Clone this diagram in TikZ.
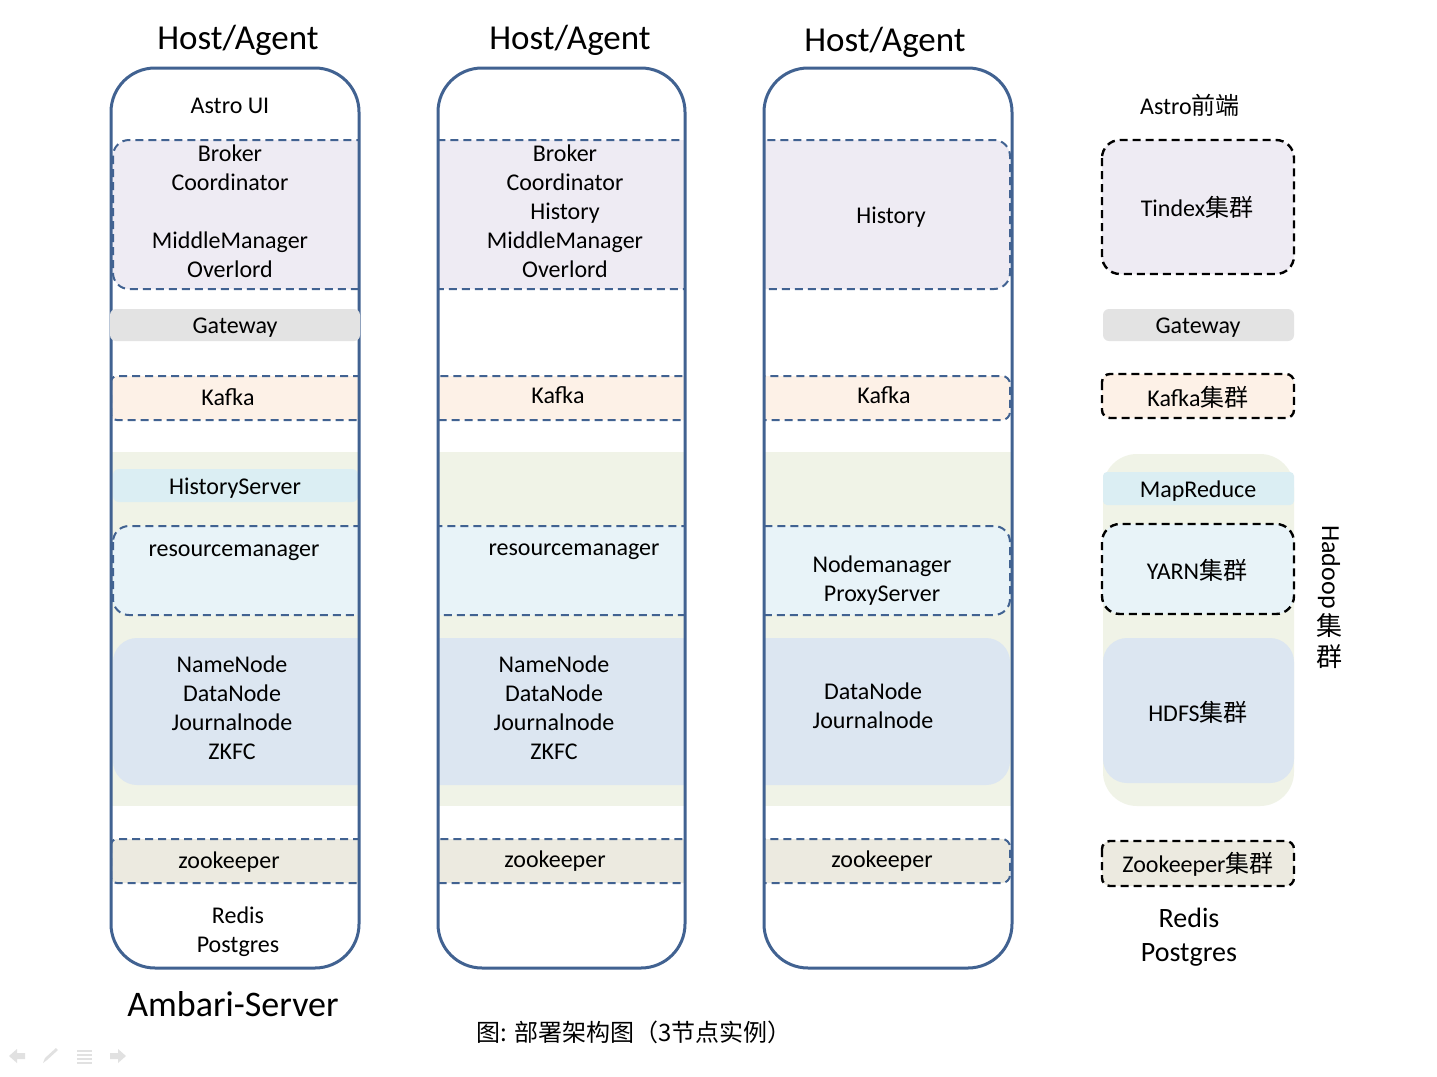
\documentclass[tikz,border=0pt]{standalone}
\usepackage{fontspec}
\setmainfont{Carlito}
\newfontfamily\cjk{Noto Sans CJK SC}
\definecolor{colborder}{RGB}{65,98,145}
\definecolor{purp}{RGB}{238,235,243}
\definecolor{gwgray}{RGB}{227,227,227}
\definecolor{peach}{RGB}{253,241,231}
\definecolor{hgreen}{RGB}{240,243,231}
\definecolor{hsblue}{RGB}{219,238,243}
\definecolor{rmblue}{RGB}{232,243,248}
\definecolor{hdfsblue}{RGB}{220,230,241}
\definecolor{zkgray}{RGB}{236,234,224}
\definecolor{navgray}{RGB}{225,225,225}
\begin{document}
\begin{tikzpicture}[x=0.5pt,y=-0.5pt,
  colframe/.style={draw=colborder,line width=1.5pt,rounded corners=22pt},
  bluedash/.style={draw=colborder,line width=1pt,dash pattern=on 4pt off 2.5pt},
  blackdash/.style={draw=black,line width=1.2pt,dash pattern=on 4pt off 2.5pt},
  lbl/.style={inner sep=0pt,align=center,font=\fontsize{12}{14.5}\selectfont},
  title/.style={inner sep=0pt,font=\fontsize{17.5}{21}\selectfont},
]
\useasboundingbox (0,0) rectangle (1437,1077);
\fill[white] (0,0) rectangle (1437,1077);

% ---------- column 1 ----------
\begin{scope}
  \clip[rounded corners=22pt] (111,68) rectangle (359,968);
  \draw[bluedash,fill=purp,rounded corners=8pt] (113,140) rectangle (420,289);
  \draw[bluedash,fill=peach,rounded corners=3pt] (111,376) rectangle (420,420);
  \fill[hgreen] (100,452) rectangle (370,806);
  \fill[hsblue,rounded corners=3pt] (113,469) rectangle (358,502);
  \draw[bluedash,fill=rmblue,rounded corners=8pt] (113,526) rectangle (420,615);
  \fill[hdfsblue,rounded corners=12pt] (113,638) rectangle (420,785);
  \draw[bluedash,fill=zkgray,rounded corners=3pt] (111,839) rectangle (420,883);
\end{scope}
\draw[colframe] (111,68) rectangle (359,968);
\fill[gwgray,rounded corners=3pt] (110,309) rectangle (360,341);

% ---------- column 2 ----------
\begin{scope}
  \clip[rounded corners=22pt] (438,68) rectangle (685,968);
  \draw[bluedash,fill=purp,rounded corners=8pt] (380,140) rectangle (750,289);
  \draw[bluedash,fill=peach,rounded corners=4pt] (380,376) rectangle (750,420);
  \fill[hgreen] (420,452) rectangle (700,806);
  \draw[bluedash,fill=rmblue,rounded corners=8pt] (380,526) rectangle (750,615);
  \fill[hdfsblue,rounded corners=12pt] (380,638) rectangle (750,785);
  \draw[bluedash,fill=zkgray,rounded corners=4pt] (380,839) rectangle (750,883);
\end{scope}
\draw[colframe] (438,68) rectangle (685,968);

% ---------- column 3 ----------
\begin{scope}
  \clip[rounded corners=22pt] (764,68) rectangle (1012,968);
  \draw[bluedash,fill=purp,rounded corners=8pt] (700,140) rectangle (1010,289);
  \draw[bluedash,fill=peach,rounded corners=4pt] (700,376) rectangle (1010,420);
  \fill[hgreen] (750,452) rectangle (1030,806);
  \draw[bluedash,fill=rmblue,rounded corners=8pt] (700,526) rectangle (1010,615);
  \fill[hdfsblue,rounded corners=12pt] (700,638) rectangle (1010,785);
  \draw[bluedash,fill=zkgray,rounded corners=4pt] (700,839) rectangle (1010,883);
\end{scope}
\draw[colframe] (764,68) rectangle (1012,968);

% ---------- right legend column ----------
\draw[blackdash,fill=purp,rounded corners=9pt] (1102,140) rectangle (1294,274);
\fill[gwgray,rounded corners=3pt] (1103,309) rectangle (1294,341);
\draw[blackdash,fill=peach,rounded corners=4pt] (1102,374) rectangle (1294,418);
\fill[hgreen,rounded corners=17pt] (1103,454) rectangle (1294,806);
\fill[hsblue,rounded corners=2pt] (1103,472) rectangle (1294,505);
\draw[blackdash,fill=rmblue,rounded corners=9pt] (1102,524) rectangle (1294,614);
\fill[hdfsblue,rounded corners=12pt] (1103,638) rectangle (1294,783);
\draw[blackdash,fill=zkgray,rounded corners=4pt] (1102,841) rectangle (1294,886);

% ---------- titles ----------
\node[title] (t1) at (238,40) {Host/Agent};
\node[title] (t2) at (570,40) {Host/Agent};
\node[title] (t3) at (885,42) {Host/Agent};
\node[inner sep=0pt,font=\fontsize{18}{22}\selectfont] (amb) at (233,1004) {Ambari-Server};
\node[inner sep=0pt,font=\cjk\fontsize{12}{14}\selectfont] (cap) at (634,1032) {图: 部署架构图（3节点实例）};

% ---------- column 1 labels ----------
\node[lbl] (c1astro) at (230,106) {Astro UI};
\node[lbl] (c1druid) at (230,211) {Broker\\Coordinator\\[14.5pt]MiddleManager\\Overlord};
\node[lbl] (c1gw) at (235,328) {Gateway};
\node[lbl] (c1kafka) at (228,397) {Kafka};
\node[lbl] (c1hs) at (235,488) {HistoryServer};
\node[lbl] (c1rm) at (234,553) {resourcemanager};
\node[lbl] (c1hdfs) at (232,708) {NameNode\\DataNode\\Journalnode\\ZKFC};
\node[lbl] (c1zk) at (229,862) {zookeeper};
\node[lbl] (c1db) at (238,932) {Redis\\Postgres};

% ---------- column 2 labels ----------
\node[lbl] (c2druid) at (565,211) {Broker\\Coordinator\\History\\MiddleManager\\Overlord};
\node[lbl] (c2kafka) at (558,395) {Kafka};
\node[lbl] (c2rm) at (574,552) {resourcemanager};
\node[lbl] (c2hdfs) at (554,708) {NameNode\\DataNode\\Journalnode\\ZKFC};
\node[lbl] (c2zk) at (555,861) {zookeeper};

% ---------- column 3 labels ----------
\node[lbl] (c3druid) at (891,217) {History};
\node[lbl] (c3kafka) at (884,395) {Kafka};
\node[lbl] (c3nm) at (882,581) {Nodemanager\\ProxyServer};
\node[lbl] (c3hdfs) at (873,706) {DataNode\\Journalnode};
\node[lbl] (c3zk) at (882,861) {zookeeper};

% ---------- right column labels ----------
\node[lbl] (rastro) at (1190,105) {Astro{\cjk 前端}};
\node[lbl] (rtindex) at (1197,207) {Tindex{\cjk 集群}};
\node[lbl] (rgw) at (1198,328) {Gateway};
\node[lbl] (rkafka) at (1198,397) {Kafka{\cjk 集群}};
\node[lbl] (rmr) at (1198,491) {MapReduce};
\node[lbl] (ryarn) at (1197,570) {YARN{\cjk 集群}};
\node[lbl] (rhdfs) at (1198,712) {HDFS{\cjk 集群}};
\node[lbl] (rzk) at (1198,864) {Zookeeper{\cjk 集群}};
\node[inner sep=0pt,align=center,font=\fontsize{14}{17}\selectfont] (rdb) at (1189,937) {Redis\\Postgres};

% ---------- Hadoop vertical label ----------
\node[inner sep=0pt,rotate=-90,font=\fontsize{13}{15}\selectfont] (hadoop) at (1329,567) {Hadoop};
\node[inner sep=0pt,font=\cjk\fontsize{13}{15}\selectfont] (hji) at (1329,626) {集};
\node[inner sep=0pt,font=\cjk\fontsize{13}{15}\selectfont] (hqun) at (1329,657) {群};

% ---------- faint slideshow controls ----------
\fill[navgray] (9,1056) -- (17,1049) -- (17,1053) -- (25,1053) -- (25,1059) -- (17,1059) -- (17,1063) -- cycle;
\fill[navgray] (43,1063) -- (45,1058) -- (56,1048) -- (58,1050) -- (47,1060) -- cycle;
\fill[navgray] (77,1050) rectangle (92,1052);
\fill[navgray] (77,1054) rectangle (92,1056);
\fill[navgray] (77,1058) rectangle (92,1060);
\fill[navgray] (77,1062) rectangle (92,1064);
\fill[navgray] (126,1056) -- (118,1049) -- (118,1053) -- (110,1053) -- (110,1059) -- (118,1059) -- (118,1063) -- cycle;
\end{tikzpicture}
\end{document}
